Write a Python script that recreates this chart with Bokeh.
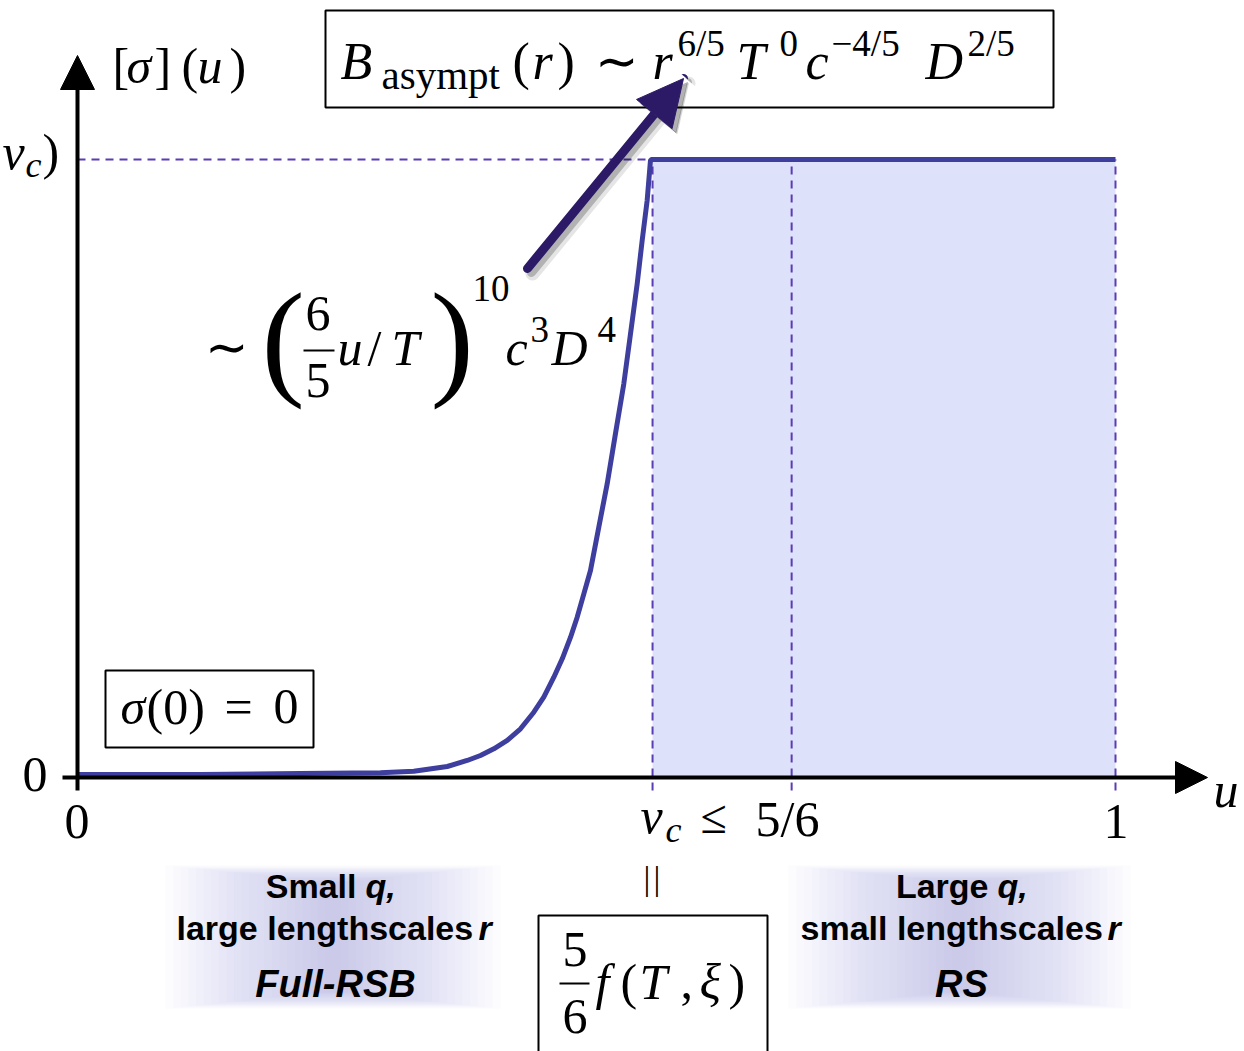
from bokeh.plotting import figure
from bokeh.models import Range1d, Arrow, NormalHead
from bokeh.core.properties import value
from bokeh.embed import file_html
from bokeh.resources import INLINE

# --- overlap function sigma(u): rises like a power law, then plateaus at sigma(v_c)
u_values = [0.0, 0.1185, 0.2148, 0.2919, 0.3240, 0.3562, 0.3754, 0.3882, 0.4011,
            0.4140, 0.4268, 0.4396, 0.4492, 0.4589, 0.4670, 0.4750, 0.4814, 0.4878,
            0.4942, 0.5022, 0.5103, 0.5183, 0.5263, 0.5328, 0.5392, 0.5440, 0.5488,
            0.5520, 0.5530, 1.0]
sigma_values = [0.0, 0.0, 0.0016, 0.0028, 0.0054, 0.0130, 0.0228, 0.0309, 0.0418,
                0.0553, 0.0743, 0.1013, 0.1257, 0.1582, 0.1881, 0.2233, 0.2558, 0.2938,
                0.3317, 0.4021, 0.4727, 0.5545, 0.6353, 0.7171, 0.7979, 0.8683, 0.9333,
                0.9984, 1.0, 1.0]
v_c = 0.554                     # breakpoint v_c
u_five_sixths = 0.688           # schematic position of 5/6
u_end = 1.0
sigma_plateau = 1.0
u_marks = [v_c, u_five_sixths, u_end]

W, H = 1244, 1051
X0, XS = 77, 1038               # canvas x of u=0, pixels per unit u
Y0, YS = 774, 615               # canvas y of sigma=0, pixels per unit sigma


def px(x):
    return (x - X0) / XS


def py(y):
    return (Y0 - y) / YS


SERIF = "Liberation Serif"
SANS = "Liberation Sans"
CURVE = "#3e3e9e"
DASH = "#5a3cb4"
SHADE = "#dee1fa"
POINTER = "#2c1a66"

p = figure(width=W, height=H, output_backend="svg", toolbar_location=None,
           x_range=Range1d(px(0), px(W)), y_range=Range1d(py(H), py(0)),
           min_border=0, outline_line_color=None)
p.axis.visible = False
p.grid.visible = False
p.background_fill_color = "white"
p.border_fill_color = "white"


def put(x, y, s, size, style="normal", font=SERIF, align="left", color="black"):
    # y is the wanted baseline; the renderer sets glyphs ~0.375 em lower
    yb = y - 0.375 * size
    p.text(x=[px(x)], y=[py(yb)], text=[s], text_font=value(font),
           text_font_size=f"{size}px", text_font_style=style, text_align=align,
           text_baseline="alphabetic", text_color=color)


def box(l, t, r, b, lw=2):
    p.quad(left=[px(l)], right=[px(r)], top=[py(t)], bottom=[py(b)],
           fill_color=None, line_color="black", line_width=lw)


def hbar(x1, x2, y, lw=2):
    p.line([px(x1), px(x2)], [py(y), py(y)], line_color="black", line_width=lw)


def soft_panel(l, t, r, b, steps=22):
    cx, cy = (l + r) / 2, (t + b) / 2
    for i in range(steps):
        f = 1 - i / steps
        hw = (r - l) / 2 * f
        hh = (b - t) / 2 * (0.75 + 0.25 * f)
        p.quad(left=[px(cx - hw)], right=[px(cx + hw)], top=[py(cy - hh)],
               bottom=[py(cy + hh)], fill_color="#b8b8e4", fill_alpha=0.04,
               line_color=None)


axis_y = py(777)
below = py(790)

# shaded RS region
p.quad(left=[v_c], right=[u_end], bottom=[axis_y], top=[sigma_plateau],
       fill_color=SHADE, line_color=None)

# dashed guides
p.line([0, v_c], [sigma_plateau, sigma_plateau], line_color=DASH, line_width=2,
       line_dash="8 6")
for um in u_marks:
    p.line([um, um], [below, sigma_plateau], line_color=DASH, line_width=2,
           line_dash="8 6")

# axes with arrow heads
p.add_layout(Arrow(end=NormalHead(size=32, fill_color="black", line_color="black"),
                   x_start=px(62), y_start=axis_y, x_end=px(1207), y_end=axis_y,
                   line_color="black", line_width=4))
p.add_layout(Arrow(end=NormalHead(size=34, fill_color="black", line_color="black"),
                   x_start=0, y_start=below, x_end=0, y_end=py(55),
                   line_color="black", line_width=4))

# the curve
p.line(u_values, sigma_values, line_color=CURVE, line_width=5, line_join="round")

# pointer arrow with soft shadow
for dx, dy, a, w in [(5, 5, 0.10, 14), (4, 4, 0.22, 9)]:
    p.add_layout(Arrow(end=NormalHead(size=46, fill_color="black", line_color="black",
                                      fill_alpha=a, line_alpha=a),
                       x_start=px(527 + dx), y_start=py(268 + dy),
                       x_end=px(683 + dx), y_end=py(78 + dy),
                       line_color="black", line_alpha=a, line_width=w, line_cap="round"))
p.add_layout(Arrow(end=NormalHead(size=46, fill_color=POINTER, line_color=POINTER),
                   x_start=px(527), y_start=py(268), x_end=px(683), y_end=py(78),
                   line_color=POINTER, line_width=9, line_cap="round"))

# axis title [sigma](u)
put(112, 84, "[", 50)
put(126, 84, "σ", 50, "italic")
put(154, 84, "]", 50)
put(181, 84, "(", 50)
put(197, 84, "u", 50, "italic")
put(229, 84, ")", 50)

# sigma(v_c) level label at left edge
put(2, 170, "v", 50, "italic")
put(25, 178, "c", 36, "italic")
put(42, 170, ")", 50)

# tick labels
put(22, 793, "0", 50)
put(64, 840, "0", 50)
put(1103, 840, "1", 50)
put(1213, 808, "u", 50, "italic")
put(640, 834, "v", 50, "italic")
put(665, 843, "c", 36, "italic")
put(700, 834, "≤", 48)
put(755, 837, "5/6", 50)
put(643, 891, "|", 34)
put(653, 891, "|", 34)

# asymptotic formula box
box(325, 10, 1053, 107)
put(340, 80, "B", 52, "italic")
put(381, 90, "asympt", 41)
put(512, 80, "(", 52)
put(532, 80, "r", 52, "italic")
put(557, 80, ")", 52)
put(594, 80, "∼", 52)
put(652, 80, "r", 52, "italic")
put(677, 57, "6/5", 37)
put(736, 80, "T", 52, "italic")
put(779, 57, "0", 37)
put(805, 80, "c", 52, "italic")
put(831, 57, "−4/5", 37)
put(925, 80, "D", 52, "italic")
put(967, 57, "2/5", 37)

# power-law formula
put(204, 366, "∼", 52)
put(261, 386, "(", 130)
put(305, 332, "6", 50)
hbar(303, 334, 350)
put(305, 399, "5", 50)
put(337, 366, "u", 50, "italic")
put(367, 366, "/", 50)
put(391, 366, "T", 50, "italic")
put(430, 386, ")", 130)
put(472, 302, "10", 37)
put(505, 366, "c", 50, "italic")
put(530, 343, "3", 37)
put(551, 366, "D", 50, "italic")
put(597, 343, "4", 37)

# sigma(0) = 0 box
box(105, 670, 313, 747)
put(120, 725, "σ", 50, "italic")
put(146, 725, "(0)", 50)
put(224, 725, "=", 50)
put(273, 725, "0", 50)

# v_c = 5/6 f(T, xi) box
box(538, 915, 767, 1070)
put(562, 968, "5", 50)
hbar(559, 589, 983)
put(562, 1035, "6", 50)
put(595, 1000, "f", 50, "italic")
put(620, 1000, "(", 50)
put(639, 1000, "T", 50, "italic")
put(680, 1000, ",", 50)
put(699, 1000, "ξ", 50, "italic")
put(728, 1000, ")", 50)

# regime panels
soft_panel(165, 865, 500, 1008)
soft_panel(788, 865, 1130, 1008)

put(356, 898, "Small", 34, "bold", SANS, align="right")
put(365, 898, "q,", 34, "bold italic", SANS)
put(176, 940, "large lengthscales", 34, "bold", SANS)
put(478, 940, "r", 34, "bold italic", SANS)
put(335, 998, "Full-RSB", 38, "bold italic", SANS, align="center")

put(988, 898, "Large", 34, "bold", SANS, align="right")
put(997, 898, "q,", 34, "bold italic", SANS)
put(800, 940, "small lengthscales", 34, "bold", SANS)
put(1107, 940, "r", 34, "bold italic", SANS)
put(961, 998, "RS", 38, "bold italic", SANS, align="center")

open("out.html", "w").write(file_html(p, INLINE))
